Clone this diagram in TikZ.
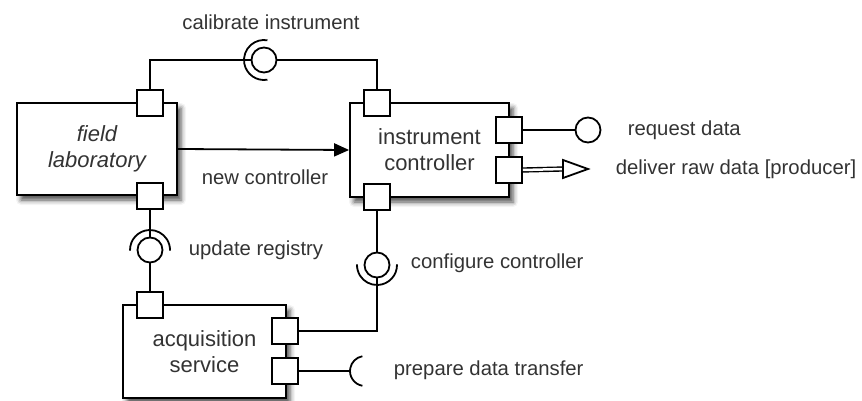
\documentclass[tikz,border=0pt]{standalone}
\usepackage{fontspec}
\setmainfont{Liberation Sans}
\usetikzlibrary{arrows.meta,shadows.blur}

\begin{document}
\begin{tikzpicture}[x=1pt, y=-1pt, line width=1.8pt,
    font=\fontsize{20.3}{26}\selectfont,
    comp/.style={draw, fill=white, align=center, inner sep=0pt, text=black!80,
        font=\fontsize{22}{26}\selectfont,
        blur shadow={shadow xshift=4pt, shadow yshift=-5pt, shadow blur radius=5pt, shadow opacity=70}},
    port/.style={draw, fill=white, minimum size=26pt, inner sep=0pt},
    ball/.style={draw, fill=white, circle, minimum size=25pt, inner sep=0pt},
    lbl/.style={inner sep=0pt, anchor=west, text=black!80}]
\useasboundingbox (0,0) rectangle (862,401);

\node[comp, minimum width=160pt, minimum height=92pt, font=\fontsize{22}{26}\selectfont\itshape] (fl) at (97,149) {field\\laboratory};
\node[comp, minimum width=159pt, minimum height=94pt] (ic) at (429.5,150) {instrument\\controller};
\node[comp, minimum width=163pt, minimum height=93pt] (as) at (204.5,351.5) {acquisition\\service};

\foreach \name/\x/\y in {fl-n/150/103, fl-s/150/196, ic-n/377/103, ic-s/377/197,
    ic-e1/509/130, ic-e2/509/170, as-n/150/305, as-e1/285/331, as-e2/285/371}
    \node[port] (\name) at (\x,\y) {};

% provided / required interfaces
\node[ball] (cal) at (264,60) {};
\node[ball] (ur) at (150,250) {};
\node[ball] (cc) at (377,265) {};
\node[ball] (rq) at (588,130) {};
\coordinate (dv) at (563,169);
\coordinate (pd-c) at (365,371);
\coordinate (pd) at (350,371);

\draw (fl-n.north) |- (cal.west);
\draw (cal.east) -| (ic-n.north);
\draw ([shift={(80:20)}]cal.center) arc[start angle=80, end angle=280, radius=20];

\draw[-{Triangle[length=15pt, width=13pt]}] (fl.east) -- (ic.west);

\draw (fl-s.south) -- (ur.north);
\draw (ur.south) -- (as-n.north);
\draw ([shift={(178:20)}]ur.center) arc[start angle=178, end angle=362, radius=20];

\draw (ic-s.south) -- (cc.north);
\draw (cc.south) |- (as-e1.east);
\draw ([shift={(-2:20)}]cc.center) arc[start angle=-2, end angle=182, radius=20];

\draw (ic-e1.east) -- (rq.west);
\draw[double, double distance=2.5pt, line width=1.4pt] (ic-e2.east) -- (dv);
\draw[fill=white] (dv) -- ++(0,-9) -- ++(25,9) -- ++(-25,9) -- cycle;

\draw (as-e2.east) -- (pd);
\draw ([shift={(100:15)}]pd-c) arc[start angle=100, end angle=260, radius=15];

\node[text=black!80] (cal-l) at (271,22) {calibrate instrument};
\node[text=black!80] (nc-l) at (265,177) {new controller};
\node[lbl] (ur-l) at (188,250) {update registry};
\node[lbl] (cc-l) at (410,263) {configure controller};
\node[lbl] (rq-l) at (627,130) {request data};
\node[lbl] (dv-l) at (615,169) {deliver raw data [producer]};
\node[lbl] (pd-l) at (393,370) {prepare data transfer};
\end{tikzpicture}
\end{document}
